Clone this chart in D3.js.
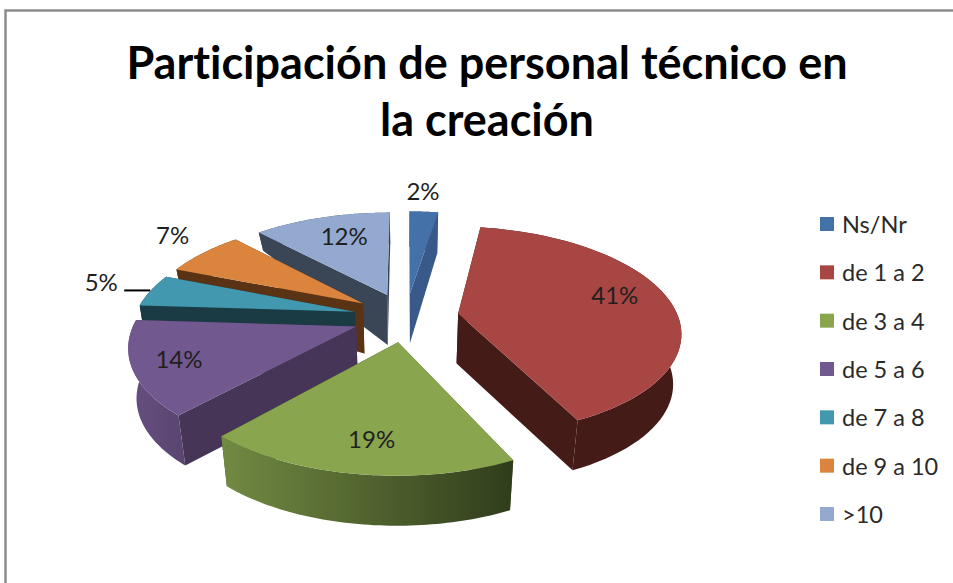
<!DOCTYPE html>
<html><head><meta charset="utf-8">
<script src="https://cdnjs.cloudflare.com/ajax/libs/d3/7.8.5/d3.min.js"></script>
<style>html,body{margin:0;padding:0;background:#fff;overflow:hidden}svg{display:block}text{font-family:Lato,"Noto Sans",sans-serif;font-variant-ligatures:none}</style>
</head><body><svg id="c" width="953" height="583"></svg>
<script>
const titleLines = ["Participación de personal técnico en", "la creación"];
const categories = ["Ns/Nr", "de 1 a 2", "de 3 a 4", "de 5 a 6", "de 7 a 8", "de 9 a 10", ">10"];
const percents = [2.5, 40.4, 18.8, 14.3, 5, 7, 12];
const percentLabels = ["2%", "41%", "19%", "14%", "5%", "7%", "12%"];
const topColors = ["#4472a8", "#a84644", "#89a54e", "#71588f", "#4198af", "#db843d", "#93a9cf"];
const wallColors = ["#38598a", "#451b18", "#3a4a22", "#463556", "#1a3a44", "#5a3315", "#3a4556"];
const rimLeftColors = ["#38598a", "#451b18", "#728a42", "#654f80", "#1a3a44", "#5a3315", "#3a4556"];
const rimRightColors = ["#38598a", "#451b18", "#303d1c", "#594570", "#1a3a44", "#5a3315", "#3a4556"];
const drawOrder = [6, 5, 4, 3, 2, 0, 1];
const labelFrac = [1.1, 0.75, 0.75, 0.75, 1.1, 1.1, 0.75];
const labelNudge = [[-2,-14],[-2,-8],[3,2],[-12,1],[-30,-7],[-16,-14],[8,0]];

const W = 953, H = 583;
const svg = d3.select("#c");
const defs = svg.append("defs");
// disc geometry and perspective
const cx = 406, cy = 317, R = 220, explode = 53, F = 1350, tilt = 0.465, lowerScale = 0.97;
function project(u, v, lower) {
  const s = 1 / (1 - v / F);
  const back = Math.max(0, -v - 50);
  const depth = lower ? Math.min(50, 50 - back * (0.0699 + 0.000764 * (-u))) : 0;
  return [cx + u * s * (lower ? lowerScale : 1), cy + tilt * v * s + depth];
}
function pt(bis, ang, r, lower) {
  const u = explode * Math.sin(bis) + r * Math.sin(ang);
  const v = -explode * Math.cos(bis) - r * Math.cos(ang);
  return project(u, v, lower);
}
const line = d3.line();
const pie = d3.pie().sort(null).value(d => d).startAngle(0).endAngle(2 * Math.PI);
const arcs = pie(percents);

// frame
svg.append("path").attr("d", `M5.5,${H} V10.5 H${W}`).attr("fill", "none").attr("stroke", "#8c8c8c").attr("stroke-width", 2.5);

drawOrder.forEach(i => {
  const a = arcs[i], bis = (a.startAngle + a.endAngle) / 2;
  const steps = d3.range(0, 61).map(t => a.startAngle + (a.endAngle - a.startAngle) * t / 60);
  const g = svg.append("g");
  const topRim = steps.map(t => pt(bis, t, R, false));
  const lowRim = steps.map(t => pt(bis, t, R, true));
  const apexT = pt(bis, 0, 0, false), apexB = pt(bis, 0, 0, true);
  // radial walls
  [a.startAngle, a.endAngle].forEach(t => {
    g.append("path").attr("d", line([apexT, pt(bis, t, R, false), pt(bis, t, R, true), apexB]) + "Z").attr("fill", wallColors[i]);
  });
  // rim wall with horizontal shading
  const xs = d3.extent(topRim.concat(lowRim), d => d[0]);
  const gid = "rim" + i;
  const lg = defs.append("linearGradient").attr("id", gid).attr("gradientUnits", "userSpaceOnUse")
    .attr("x1", xs[0]).attr("x2", xs[1]).attr("y1", 0).attr("y2", 0);
  lg.append("stop").attr("offset", 0).attr("stop-color", rimLeftColors[i]);
  lg.append("stop").attr("offset", 1).attr("stop-color", rimRightColors[i]);
  g.append("path").attr("d", line(topRim.concat(lowRim.slice().reverse())) + "Z").attr("fill", `url(#${gid})`);
  // top face
  g.append("path").attr("d", line([apexT].concat(topRim)) + "Z").attr("fill", topColors[i]);
});

// data labels
const labels = arcs.map((a, i) => {
  const bis = (a.startAngle + a.endAngle) / 2;
  const p = pt(bis, bis, R * labelFrac[i], false);
  return { x: p[0] + labelNudge[i][0], y: p[1] + labelNudge[i][1], t: percentLabels[i] };
});
svg.selectAll("text.lab").data(labels).join("text").attr("class", "lab")
  .attr("x", d => d.x).attr("y", d => d.y).attr("text-anchor", "middle").attr("dominant-baseline", "central")
  .attr("font-size", 24).attr("fill", "#1f1f1f").text(d => d.t);
// leader line for the 5% label
svg.append("line").attr("x1", labels[4].x + 23).attr("x2", labels[4].x + 49)
  .attr("y1", labels[4].y + 9).attr("y2", labels[4].y + 9).attr("stroke", "#000").attr("stroke-width", 2);

// title
svg.selectAll("text.ttl").data(titleLines).join("text").attr("class", "ttl")
  .attr("x", 487).attr("y", (d, i) => 79 + i * 57).attr("text-anchor", "middle")
  .attr("font-size", 45).attr("font-weight", 700).attr("fill", "#000").text(d => d);

// legend
const legendY = d3.scalePoint().domain(categories).range([224, 514]);
const leg = svg.selectAll("g.leg").data(categories).join("g").attr("class", "leg")
  .attr("transform", d => `translate(820,${legendY(d)})`);
leg.append("rect").attr("x", 0).attr("y", -7).attr("width", 14).attr("height", 14)
  .attr("fill", (d, i) => topColors[i]);
leg.append("text").attr("x", 22).attr("y", 0).attr("dominant-baseline", "central")
  .attr("font-size", 23.5).attr("fill", "#2a2a2a").text(d => d);
</script></body></html>
